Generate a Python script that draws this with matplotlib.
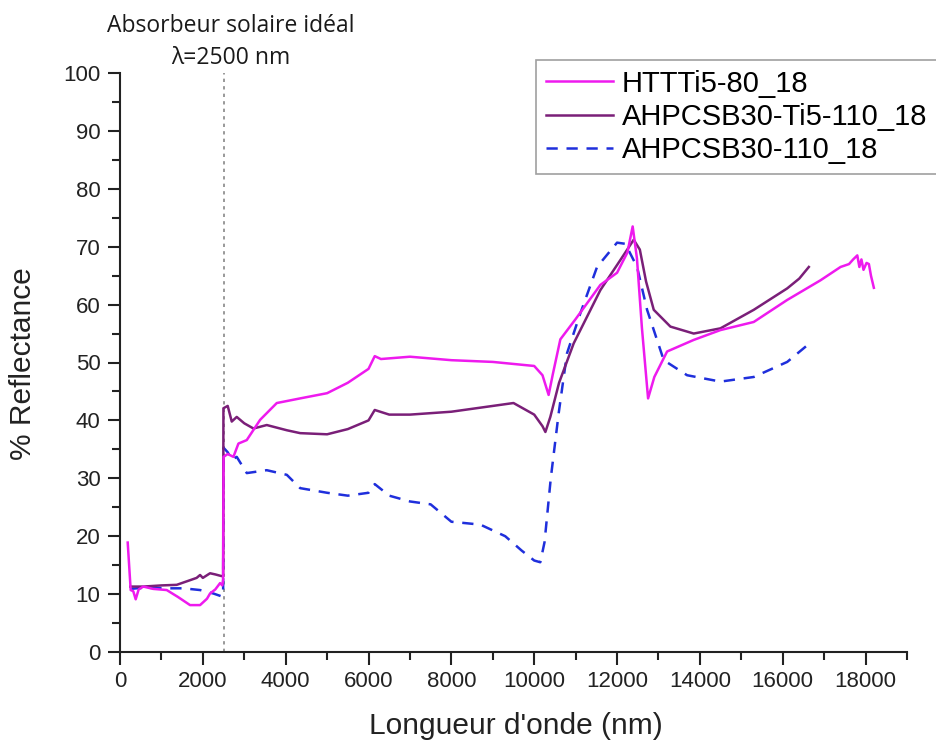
import matplotlib
matplotlib.use("Agg")
import matplotlib.pyplot as plt
from matplotlib.ticker import MultipleLocator

plt.rcParams['font.family'] = ['Liberation Sans', 'DejaVu Sans']

# HTTTi5-80_18
x_htt = [186, 258, 320, 379, 450, 563, 800, 1128, 1400, 1691, 1933, 2100, 2174, 2300, 2416, 2470, 2490,
         2500, 2600, 2738, 2859, 3060, 3383, 3785, 4349, 5000, 5500, 6000, 6150, 6300, 7000, 8000, 9000,
         10000, 10200, 10348, 10450, 10631, 11000, 11597, 12000, 12250, 12377, 12480, 12600, 12749,
         12900, 13208, 13851, 14496, 15300, 16107, 16912, 17396, 17600, 17700, 17800, 17850, 17900,
         17950, 18023, 18080, 18130, 18200]
y_htt = [18.9, 10.7, 10.5, 9.1, 10.8, 11.3, 10.9, 10.7, 9.5, 8.1, 8.1, 9.2, 10.1, 10.8, 11.9, 11.5, 12.5,
         33.7, 34.2, 33.7, 36.0, 36.6, 40.1, 43.0, 43.8, 44.7, 46.5, 48.9, 51.1, 50.6, 51.0, 50.4, 50.1,
         49.4, 47.8, 44.4, 48.0, 54.0, 57.5, 63.4, 65.5, 69.0, 73.5, 68.0, 56.0, 43.8,
         47.5, 51.9, 53.9, 55.6, 57.0, 60.8, 64.2, 66.5, 67.0, 67.8, 68.5, 66.5, 67.8,
         66.0, 67.2, 67.0, 65.0, 62.9]

# AHPCSB30-Ti5-110_18
x_ti = [250, 563, 1000, 1369, 1691, 1850, 1933, 2000, 2174, 2300, 2456, 2490,
        2497, 2600, 2698, 2818, 3000, 3222, 3543, 4027, 4349, 5000, 5500, 6000, 6150, 6500, 7000,
        8000, 9000, 9500, 10000, 10200, 10270, 10389, 10600, 10953, 11597, 12080, 12402, 12550,
        12700, 12886, 13288, 13851, 14496, 15301, 16108, 16400, 16630]
y_ti = [11.3, 11.3, 11.5, 11.6, 12.4, 12.8, 13.3, 12.8, 13.6, 13.4, 13.1, 13.2,
        42.1, 42.5, 39.8, 40.6, 39.5, 38.6, 39.2, 38.3, 37.8, 37.6, 38.5, 40.0, 41.8, 41.0, 41.0,
        41.5, 42.5, 43.0, 41.0, 39.0, 38.0, 40.6, 46.5, 53.3, 62.5, 67.7, 71.2, 69.5,
        64.0, 59.1, 56.2, 55.0, 55.9, 59.1, 62.8, 64.5, 66.5]

# AHPCSB30-110_18
x_bl = [250, 563, 1128, 1530, 1933, 2255, 2456, 2490,
        2497, 2600, 2698, 2818, 3061, 3543, 4027, 4349, 5000, 5500, 6000, 6150, 6500, 7000, 7500,
        8000, 8700, 9300, 9700, 10000, 10147, 10250, 10400, 10590, 10792, 11114, 11517, 12000,
        12200, 12483, 12725, 13127, 13691, 14496, 15301, 16108, 16630]
y_bl = [10.9, 11.1, 11.0, 11.0, 10.7, 10.1, 9.6, 9.8,
        35.3, 34.5, 33.2, 33.7, 30.9, 31.4, 30.6, 28.3, 27.5, 27.0, 27.5, 29.0, 27.0, 26.0, 25.5,
        22.5, 22.0, 20.0, 17.5, 15.8, 15.5, 19.0, 30.0, 41.2, 51.6, 58.5, 66.5, 70.7,
        70.5, 66.5, 59.1, 50.4, 47.8, 46.7, 47.5, 50.1, 53.2]

labels = ["HTTTi5-80_18", "AHPCSB30-Ti5-110_18", "AHPCSB30-110_18"]
x_ticks = [0, 2000, 4000, 6000, 8000, 10000, 12000, 14000, 16000, 18000]
y_ticks = [0, 10, 20, 30, 40, 50, 60, 70, 80, 90, 100]

fig = plt.figure(figsize=(9.36, 7.4), dpi=100)
ax = fig.add_axes([120/936, 88/740, 787/936, 579/740])

ax.axvline(2500, color='#888888', linestyle=(0, (2, 2.5)), linewidth=1.2, zorder=1)
l1, = ax.plot(x_htt, y_htt, color='#ee1aee', linewidth=1.8, label=labels[0], zorder=4)
l2, = ax.plot(x_ti, y_ti, color='#7a1f78', linewidth=1.8, label=labels[1], zorder=3)
l3, = ax.plot(x_bl, y_bl, color='#1f2fdc', linewidth=1.8, linestyle=(0, (4.5, 3.5)), label=labels[2], zorder=2)

ax.set_xlim(0, 19000)
ax.set_ylim(0, 100)
ax.set_xticks(x_ticks)
ax.set_yticks(y_ticks)
ax.xaxis.set_minor_locator(MultipleLocator(1000))
ax.yaxis.set_minor_locator(MultipleLocator(5))
ax.spines['top'].set_visible(False)
ax.spines['right'].set_visible(False)
for s in ['left', 'bottom']:
    ax.spines[s].set_linewidth(1.5)
    ax.spines[s].set_color('#222222')
ax.tick_params(which='major', direction='out', length=9, width=1.5, labelsize=16, colors='#222222', pad=5)
ax.tick_params(which='minor', direction='out', length=6, width=1.5, colors='#222222')

ax.set_xlabel("Longueur d'onde (nm)", fontsize=21.5, color='#222222')
ax.xaxis.set_label_coords((516 - 120)/787, (652 - 726)/579)
ax.xaxis.label.set_va('center')
ax.set_ylabel("% Reflectance", fontsize=21.5, color='#222222')
ax.yaxis.set_label_coords((23 - 120)/787, (652 - 364)/579)
ax.yaxis.label.set_va('center')

leg = fig.legend(handles=[l1, l2, l3], loc='upper left', bbox_to_anchor=(536/936, 1 - 60/740),
                 fontsize=21, frameon=True, fancybox=False, edgecolor='#888888',
                 handlelength=2.3, handletextpad=0.3, labelspacing=0.18, borderpad=0.33,
                 borderaxespad=0)
leg.get_frame().set_linewidth(1.2)

fig.text(231/936, 1 - 42/740, "Absorbeur solaire idéal\nλ=2500 nm", ha='center', va='center',
         fontsize=16.5, family=['Open Sans', 'DejaVu Sans'], color='#1a1a1a', linespacing=1.4)

fig.savefig("out.png", dpi=100)
